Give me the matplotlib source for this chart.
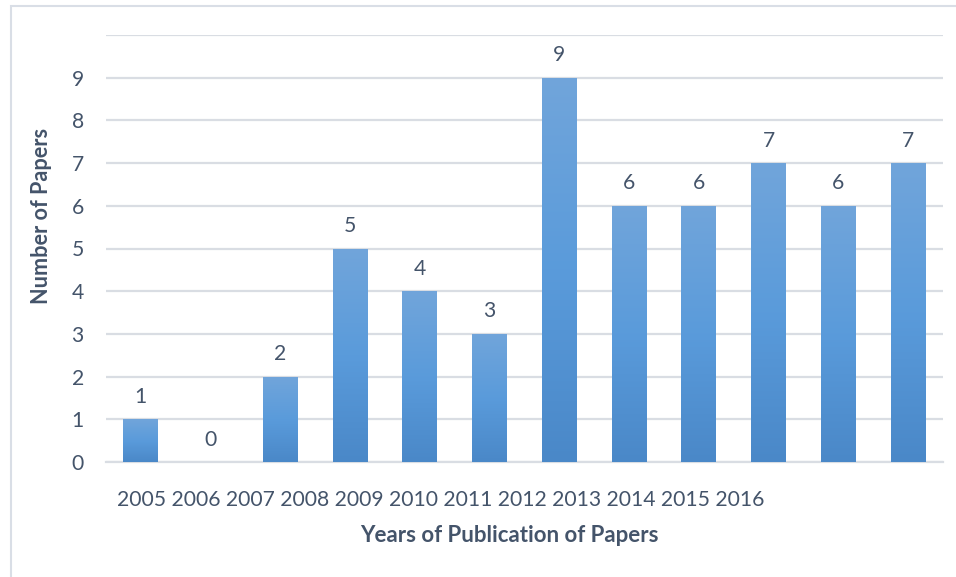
import matplotlib
matplotlib.use("Agg")
import matplotlib.pyplot as plt
import numpy as np
from matplotlib.patches import Rectangle
from matplotlib.colors import LinearSegmentedColormap

years = ["2005", "2006", "2007", "2008", "2009", "2010",
         "2011", "2012", "2013", "2014", "2015", "2016"]
papers = [1, 0, 2, 5, 4, 3, 9, 6, 6, 7, 6, 7]
y_ticks = [0, 1, 2, 3, 4, 5, 6, 7, 8, 9]

plt.rcParams['font.family'] = ['Lato', 'DejaVu Sans']
TXT = '#44546A'
GRID = '#D9DDE3'
FS = 15.2

W, H = 956, 577
fig = plt.figure(figsize=(W / 100, H / 100), dpi=100)
ax = fig.add_axes([106 / W, 1 - 462 / H, (943 - 106) / W, (462 - 35) / H])

x = np.arange(len(papers))
bars = ax.bar(x, papers, width=0.5, color='#5B9BD5', zorder=2)

cmap = LinearSegmentedColormap.from_list('g', ['#4A88C8', '#5A9BDB', '#71A5DA'])
grad = np.linspace(0, 1, 256).reshape(-1, 1)
for b in bars:
    if b.get_height() <= 0:
        continue
    x0, w, h = b.get_x(), b.get_width(), b.get_height()
    im = ax.imshow(grad, cmap=cmap, origin='lower', aspect='auto',
                   extent=(x0, x0 + w, 0, h), zorder=3)
    im.set_clip_path(b)

for xi, v in zip(x, papers):
    ax.annotate(str(v), (xi, v), xytext=(0, 9), textcoords='offset points',
                ha='center', va='bottom', fontsize=FS, color=TXT)

ax.set_xlim(-0.5, len(papers) - 0.5)
ax.set_ylim(0, 10)
ax.set_yticks(y_ticks + [10])
ax.set_yticklabels([str(t) for t in y_ticks] + [''])
ax.tick_params(axis='y', length=0, pad=16, labelsize=FS, labelcolor=TXT)
ax.set_xticks([])
ax.grid(axis='y', color=GRID, linewidth=1.6, zorder=0)
for s in ['top', 'right', 'left']:
    ax.spines[s].set_visible(False)
ax.spines['bottom'].set_color(GRID)
ax.spines['bottom'].set_linewidth(1.6)
ax.spines['bottom'].set_zorder(1)

# category labels (rendered packed, as in the original)
fig.text(117 / W, 1 - 500 / H, " ".join(years), ha='left', va='center',
         fontsize=FS, color=TXT)

fig.text(509 / W, 1 - 536 / H, "Years of Publication of Papers", ha='center',
         va='center', fontsize=16, fontweight='bold', color=TXT)
fig.text(42 / W, 1 - 216 / H, "Number of Papers", ha='center', va='center',
         rotation=90, fontsize=15.6, fontweight='bold', color=TXT)

fig.patches.append(Rectangle((11 / W, -0.1), 1.2, 1 - 6 / H + 0.1,
                             transform=fig.transFigure, fill=False,
                             edgecolor='#D9DEE6', linewidth=1.5))

fig.savefig('out.png', dpi=100)
